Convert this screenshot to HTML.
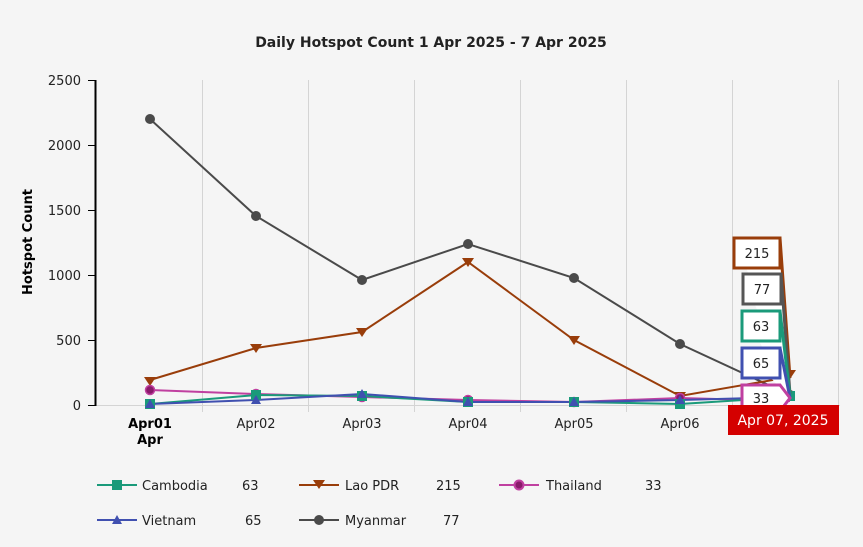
<!DOCTYPE html>
<html><head><meta charset="utf-8"><style>
body{margin:0;background:#f5f5f5}
</style></head><body>
<svg width="863" height="542" xmlns="http://www.w3.org/2000/svg" font-family="DejaVu Sans, sans-serif">
<rect width="863" height="542" fill="#f5f5f5"/>
<text x="431" y="47" text-anchor="middle" font-size="14" font-weight="bold" fill="#222">Daily Hotspot Count 1 Apr 2025 - 7 Apr 2025</text>
<g stroke="#d4d4d4" stroke-width="1">
<line x1="202.5" y1="80" x2="202.5" y2="412"/><line x1="308.5" y1="80" x2="308.5" y2="412"/>
<line x1="414.5" y1="80" x2="414.5" y2="412"/><line x1="520.5" y1="80" x2="520.5" y2="412"/>
<line x1="626.5" y1="80" x2="626.5" y2="412"/><line x1="732.5" y1="80" x2="732.5" y2="412"/>
<line x1="838.5" y1="80" x2="838.5" y2="412"/>
<line x1="96" y1="405.5" x2="840" y2="405.5"/>
</g>
<line x1="95.5" y1="80" x2="95.5" y2="406" stroke="#000" stroke-width="2"/>
<g stroke="#000"><line x1="88" y1="80.5" x2="95" y2="80.5"/><line x1="88" y1="145.5" x2="95" y2="145.5"/><line x1="88" y1="210.5" x2="95" y2="210.5"/><line x1="88" y1="275.5" x2="95" y2="275.5"/><line x1="88" y1="340.5" x2="95" y2="340.5"/><line x1="88" y1="405.5" x2="95" y2="405.5"/></g>
<g font-size="13" fill="#222" text-anchor="end">
<text x="81" y="85">2500</text><text x="81" y="150">2000</text><text x="81" y="215">1500</text><text x="81" y="280">1000</text><text x="81" y="345">500</text><text x="81" y="410">0</text></g>
<text transform="translate(32,242) rotate(-90)" text-anchor="middle" font-size="13" font-weight="bold" fill="#000">Hotspot Count</text>
<g font-size="13" fill="#222" text-anchor="middle">
<text x="150" y="428" font-weight="bold" fill="#000">Apr01</text><text x="150" y="444" font-weight="bold" fill="#000">Apr</text>
<text x="256" y="428">Apr02</text><text x="362" y="428">Apr03</text><text x="468" y="428">Apr04</text><text x="574" y="428">Apr05</text><text x="680" y="428">Apr06</text></g>
<g fill="none" stroke-width="2">
<polyline stroke="#4a4a4a" points="150,119 256,216 362,280 468,244 574,278 680,344 790,395"/>
<polyline stroke="#993d0a" points="150,380 256,348 362,332 468,262 574,340 680,396 790,377"/>
<polyline stroke="#c040a0" points="150,390 256,394 362,397 468,400 574,402 680,398 790,401"/>
<polyline stroke="#1a9a7a" points="150,404 256,395 362,396 468,402 574,402 680,404 790,397"/>
<polyline stroke="#4050b0" points="150,404 256,400 362,394 468,402 574,402 680,400 790,397"/>
</g>
<g fill="#4a4a4a"><circle cx="150" cy="119" r="5"/><circle cx="256" cy="216" r="5"/><circle cx="362" cy="280" r="5"/><circle cx="468" cy="244" r="5"/><circle cx="574" cy="278" r="5"/><circle cx="680" cy="344" r="5"/><circle cx="790" cy="395" r="5"/></g>
<g fill="#993d0a"><path d="M144,377h12l-6,9z"/><path d="M250,344h12l-6,9z"/><path d="M356,328h12l-6,9z"/><path d="M462,258h12l-6,9z"/><path d="M568,336h12l-6,9z"/><path d="M674,392h12l-6,9z"/><path d="M784,370h12l-6,9z"/></g>
<g fill="#8a1a6a" stroke="#c040a0" stroke-width="1.5"><circle cx="150" cy="390" r="4.5"/><circle cx="256" cy="394" r="4.5"/><circle cx="362" cy="397" r="4.5"/><circle cx="468" cy="400" r="4.5"/><circle cx="574" cy="402" r="4.5"/><circle cx="680" cy="398" r="4.5"/></g>
<g fill="#1a9a7a"><rect x="145" y="399" width="10" height="10"/><rect x="251" y="390" width="10" height="10"/><rect x="357" y="391" width="10" height="10"/><rect x="463" y="397" width="10" height="10"/><rect x="569" y="397" width="10" height="10"/><rect x="675" y="399" width="10" height="10"/><rect x="785" y="391" width="10" height="10"/></g>
<g fill="#4050b0"><path d="M150,399l5,9h-10z"/><path d="M256,395l5,9h-10z"/><path d="M362,389l5,9h-10z"/><path d="M468,397l5,9h-10z"/><path d="M574,397l5,9h-10z"/><path d="M680,395l5,9h-10z"/></g>
<g stroke-width="3" fill="#fff">
<path d="M734,238h46l10,140" stroke="#993d0a"/><rect x="734" y="238" width="46" height="30" stroke="#993d0a"/>
<path d="M743,274h38l9,120" stroke="#555"/><rect x="743" y="274" width="38" height="30" stroke="#555"/>
<path d="M742,311h38l10,85" stroke="#1a9a7a"/><rect x="742" y="311" width="38" height="30" stroke="#1a9a7a"/>
<path d="M742,348h38l10,50" stroke="#4050b0"/><rect x="742" y="348" width="38" height="30" stroke="#4050b0"/>
<path d="M742,385h38l10,13l-10,13h-38z" stroke="#c040a0"/>
</g>
<g font-size="13" fill="#222" text-anchor="middle"><text x="757" y="258">215</text><text x="762" y="294">77</text><text x="761" y="331">63</text><text x="761" y="368">65</text><text x="761" y="403">33</text></g>
<rect x="728" y="405" width="111" height="30" fill="#d40000"/>
<text x="783" y="425" text-anchor="middle" font-size="14" fill="#fff">Apr 07, 2025</text>
<g stroke-width="2" font-size="13" fill="#222">
<line x1="97" y1="485" x2="137" y2="485" stroke="#1a9a7a"/><rect x="112" y="480" width="10" height="10" fill="#1a9a7a"/>
<text x="142" y="490">Cambodia</text><text x="242" y="490">63</text>
<line x1="299" y1="485" x2="339" y2="485" stroke="#993d0a"/><path d="M313,480h12l-6,9z" fill="#993d0a"/>
<text x="345" y="490">Lao PDR</text><text x="436" y="490">215</text>
<line x1="499" y1="485" x2="539" y2="485" stroke="#c040a0"/><circle cx="519" cy="485" r="4.5" fill="#8a1a6a" stroke="#c040a0"/>
<text x="546" y="490">Thailand</text><text x="645" y="490">33</text>
<line x1="97" y1="520" x2="137" y2="520" stroke="#4050b0"/><path d="M117,515l5,9h-10z" fill="#4050b0"/>
<text x="142" y="525">Vietnam</text><text x="245" y="525">65</text>
<line x1="299" y1="520" x2="339" y2="520" stroke="#4a4a4a"/><circle cx="319" cy="520" r="5" fill="#4a4a4a"/>
<text x="345" y="525">Myanmar</text><text x="443" y="525">77</text>
</g>
</svg>
</body></html>
